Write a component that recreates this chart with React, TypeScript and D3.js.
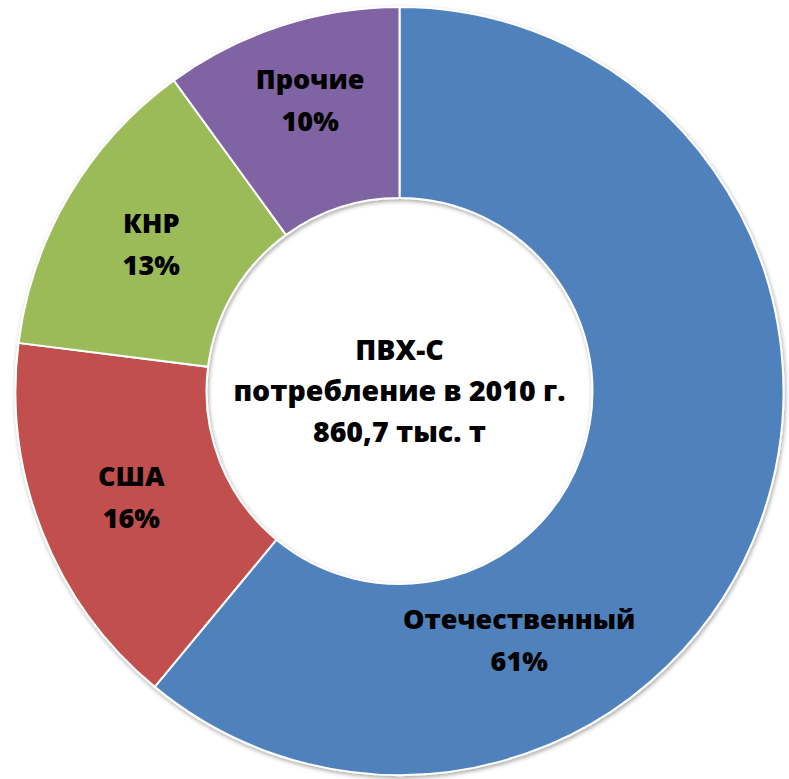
import React from "react";
import * as d3 from "d3";

const categories = ["Отечественный", "США", "КНР", "Прочие"];
const shares = [61, 16, 13, 10];
const colors = ["#4F81BD", "#C0504D", "#9BBB59", "#8064A2"];
const centerLines = ["ПВХ-С", "потребление в 2010 г.", "860,7 тыс. т"];

const W = 789;
const H = 779;
const CX = 399.5;
const CY = 391;
const R = 384;
const R0 = 193;
const FONT = "'Open Sans', 'DejaVu Sans', sans-serif";

// manual label placement (angle in degrees clockwise from top, radius) for moved labels
const labelOverride: Record<number, [number, number]> = {
  0: [154.4, 277],
  3: [-17.1, 304],
};

export default function App() {
  const data = categories.map((c, i) => ({ name: c, value: shares[i], color: colors[i] }));
  const pie = d3.pie<any>().sort(null).value((d: any) => d.value).startAngle(0).endAngle(2 * Math.PI);
  const arcs = pie(data);
  const arc = d3.arc<any>().innerRadius(R0).outerRadius(R);

  return (
    <svg width={W} height={H} style={{ position: "absolute", left: 0, top: 0 }}>
      <defs>
        <filter id="sh" x="-10%" y="-10%" width="120%" height="120%">
          <feGaussianBlur in="SourceAlpha" stdDeviation="2" />
          <feOffset dx="1" dy="2" result="b" />
          <feComponentTransfer>
            <feFuncA type="linear" slope="0.35" />
          </feComponentTransfer>
          <feMerge>
            <feMergeNode />
            <feMergeNode in="SourceGraphic" />
          </feMerge>
        </filter>
      </defs>
      <g transform={`translate(${CX},${CY})`}>
        <g filter="url(#sh)">
          {arcs.map((a, i) => (
            <path key={i} d={arc(a) || ""} fill={a.data.color} stroke="#fff" strokeWidth={2} />
          ))}
        </g>
        {arcs.map((a, i) => {
          let [x, y] = arc.centroid(a);
          const ov = labelOverride[i];
          if (ov) {
            const ang = (ov[0] * Math.PI) / 180;
            x = ov[1] * Math.sin(ang);
            y = -ov[1] * Math.cos(ang);
          }
          return (
            <text key={i} x={x} y={y} textAnchor="middle" fontFamily={FONT} fontWeight={800} fontSize={27} fill="#000">
              <tspan x={x} dy="-0.42em">{a.data.name}</tspan>
              <tspan x={x} dy="1.55em">{a.data.value}%</tspan>
            </text>
          );
        })}
        <text textAnchor="middle" fontFamily={FONT} fontWeight={800} fontSize={28.5} fill="#000">
          {centerLines.map((l, i) => (
            <tspan key={i} x={0} y={(i - 1) * 41 + 10}>{l}</tspan>
          ))}
        </text>
      </g>
    </svg>
  );
}
